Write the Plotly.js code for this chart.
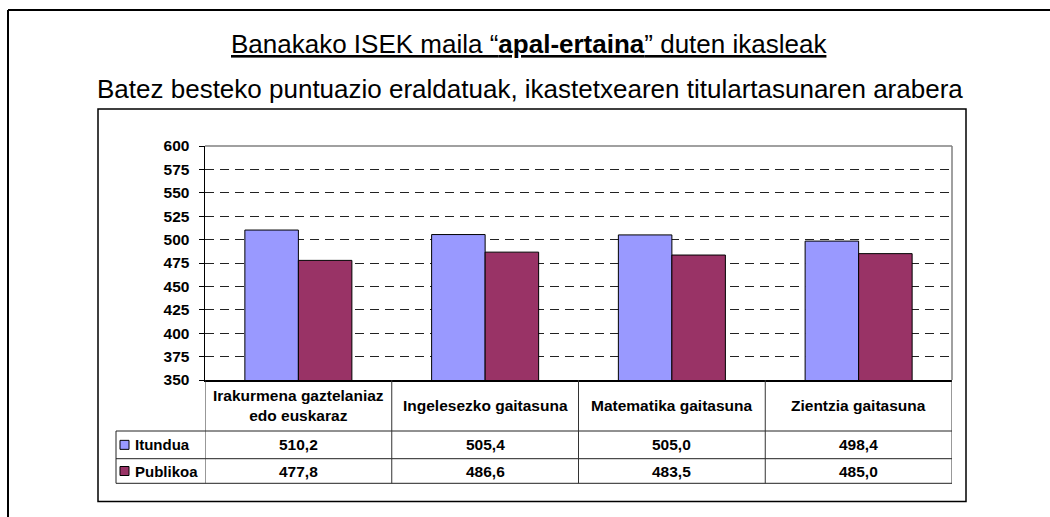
<!DOCTYPE html>
<html>
<head>
<meta charset="utf-8">
<script src="https://cdn.plot.ly/plotly-3.0.1.min.js"></script>
<style>html,body{margin:0;padding:0;background:#fff;}#chart{width:1050px;height:517px;}</style>
</head>
<body>
<div id="chart"></div>
<script>
// ---- data ----
const categories = ["Irakurmena gaztelaniaz<br>edo euskaraz", "Ingelesezko gaitasuna", "Matematika gaitasuna", "Zientzia gaitasuna"];
const seriesNames = ["Itundua", "Publikoa"];
const itundua = [510.2, 505.4, 505.0, 498.4];
const publikoa = [477.8, 486.6, 483.5, 485.0];
const yTicks = [350, 375, 400, 425, 450, 475, 500, 525, 550, 575, 600];
const titleText = "<u>Banakako ISEK maila “<b>apal-ertaina</b>” duten ikasleak</u>";
const subtitleText = "Batez besteko puntuazio eraldatuak, ikastetxearen titulartasunaren arabera";

// ---- layout helpers ----
const W = 1050, H = 517;
const px = x => x / W;
const py = y => 1 - y / H;
const colors = ["#9999FF", "#993366"];
const fmt = v => v.toFixed(1).replace(".", ",");
const FONT = "Liberation Sans, Arial, sans-serif";
const TFS = 15.5;

const plotL = 205, plotR = 952, plotT = 146, plotB = 380;
const tableL = 116, rowH1 = 431, rowH2 = 458.7, rowH3 = 483.3;

const xIdx = categories.map((c, i) => i);

const traces = [itundua, publikoa].map((vals, s) => ({
  type: "bar",
  x: xIdx,
  y: vals,
  name: seriesNames[s],
  marker: {color: colors[s], line: {color: "#000", width: 1}},
  hoverinfo: "skip"
}));

const shapes = [];
const annotations = [];

// outer frame (top + left)
shapes.push({type: "line", xref: "paper", yref: "paper", x0: px(8), x1: px(1050), y0: py(10), y1: py(10), line: {color: "#000", width: 2}});
shapes.push({type: "line", xref: "paper", yref: "paper", x0: px(8), x1: px(8), y0: py(10), y1: py(517), line: {color: "#000", width: 2}});
// inner chart box
shapes.push({type: "rect", xref: "paper", yref: "paper", x0: px(98), x1: px(966), y0: py(109), y1: py(501.5), line: {color: "#000", width: 1.5}});
// plot area top & right border
shapes.push({type: "line", xref: "paper", yref: "paper", x0: px(plotL), x1: px(plotR), y0: py(plotT), y1: py(plotT), line: {color: "#808080", width: 1.5}});
shapes.push({type: "line", xref: "paper", yref: "paper", x0: px(plotR), x1: px(plotR), y0: py(plotT), y1: py(plotB), line: {color: "#808080", width: 1.5}});

// table horizontal lines
[rowH1, rowH2, rowH3].forEach(y => shapes.push({type: "line", xref: "paper", yref: "paper", x0: px(tableL), x1: px(plotR), y0: py(y), y1: py(y), line: {color: "#222", width: 1}}));
// table vertical lines: left edge of legend column
shapes.push({type: "line", xref: "paper", yref: "paper", x0: px(tableL), x1: px(tableL), y0: py(rowH1), y1: py(rowH3), line: {color: "#222", width: 1}});
// category boundaries (through the x axis scale)
for (let i = 0; i <= categories.length; i++) {
  shapes.push({type: "line", xref: "x", yref: "paper", x0: i - 0.5, x1: i - 0.5, y0: py(plotB), y1: py(rowH3), line: {color: "#333", width: 1}});
}

// header category labels and values
categories.forEach((c, i) => {
  annotations.push({xref: "x", yref: "paper", x: i, y: py((plotB + rowH1) / 2), text: "<b>" + c + "</b>", showarrow: false, font: {family: FONT, size: TFS, color: "#000"}, xanchor: "center", yanchor: "middle"});
  annotations.push({xref: "x", yref: "paper", x: i, y: py((rowH1 + rowH2) / 2), text: "<b>" + fmt(itundua[i]) + "</b>", showarrow: false, font: {family: FONT, size: TFS, color: "#000"}, xanchor: "center", yanchor: "middle"});
  annotations.push({xref: "x", yref: "paper", x: i, y: py((rowH2 + rowH3) / 2), text: "<b>" + fmt(publikoa[i]) + "</b>", showarrow: false, font: {family: FONT, size: TFS, color: "#000"}, xanchor: "center", yanchor: "middle"});
});

// legend column
[[rowH1, rowH2], [rowH2, rowH3]].forEach(([a, b], s) => {
  const cy = (a + b) / 2;
  shapes.push({type: "rect", xref: "paper", yref: "paper", x0: px(120), x1: px(129), y0: py(cy - 4.5), y1: py(cy + 4.5), fillcolor: colors[s], line: {color: "#000", width: 1}});
  annotations.push({xref: "paper", yref: "paper", x: px(133), y: py(cy), text: "<b>" + seriesNames[s] + "</b>", showarrow: false, font: {family: FONT, size: 15, color: "#000"}, xanchor: "left", yanchor: "middle"});
});

// titles
annotations.push({xref: "paper", yref: "paper", x: px(529), y: py(44), text: titleText, showarrow: false, font: {family: FONT, size: 26, color: "#000"}, xanchor: "center", yanchor: "middle"});
annotations.push({xref: "paper", yref: "paper", x: px(530), y: py(89), text: subtitleText, showarrow: false, font: {family: FONT, size: 26, color: "#000"}, xanchor: "center", yanchor: "middle"});

const layout = {
  width: W, height: H,
  margin: {l: 0, r: 0, t: 0, b: 0},
  paper_bgcolor: "#fff", plot_bgcolor: "#fff",
  showlegend: false,
  barmode: "group",
  bargap: 0.427,
  bargroupgap: 0,
  xaxis: {
    domain: [px(plotL), px(plotR)],
    range: [-0.5, categories.length - 0.5],
    showticklabels: false, ticks: "", showgrid: false, zeroline: false,
    showline: true, linecolor: "#000", linewidth: 1.5, fixedrange: true
  },
  yaxis: {
    domain: [py(plotB), py(plotT)],
    range: [350, 600],
    tickvals: yTicks,
    ticktext: yTicks.map(String),
    ticks: "outside", ticklen: 5, tickcolor: "#000", tickwidth: 1,
    ticklabelstandoff: 6,
    tickfont: {family: FONT, size: 15.5, color: "#000", weight: "bold"},
    showgrid: true, gridcolor: "#222", gridwidth: 1, griddash: "9px,6px",
    zeroline: false, showline: true, linecolor: "#000", linewidth: 1.5, fixedrange: true
  },
  shapes: shapes,
  annotations: annotations
};

Plotly.newPlot("chart", traces, layout, {staticPlot: true, displayModeBar: false});
</script>
</body>
</html>
